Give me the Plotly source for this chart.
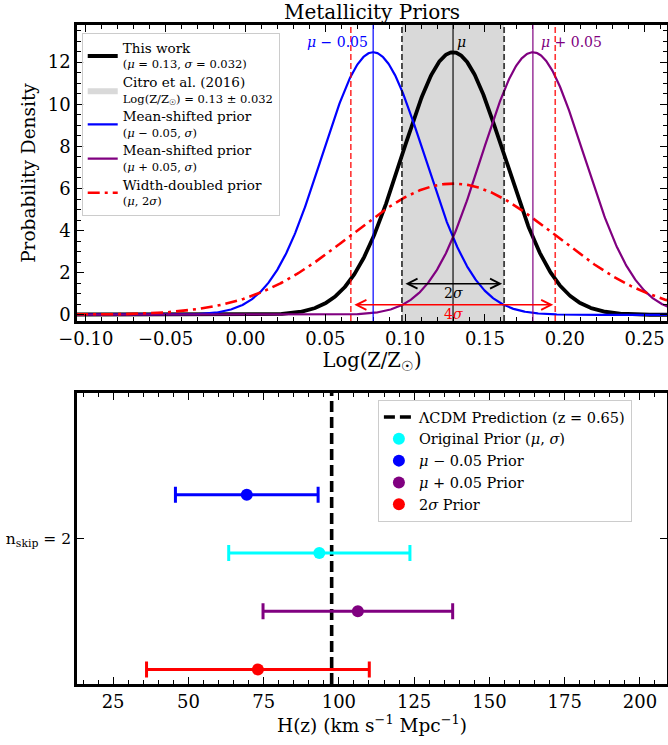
import numpy as np
import plotly.graph_objects as go

# ---------------- data ----------------
# Metallicity priors (Gaussian parameters)
mu = 0.13
sigma = 0.032
prior_names = ["This work", "Mean-shifted prior (-)", "Mean-shifted prior (+)", "Width-doubled prior"]
prior_mu = [0.13, 0.08, 0.18, 0.13]
prior_sigma = [0.032, 0.032, 0.032, 0.064]

# H(z) results for n_skip = 2
hz_labels = ["Original Prior", "mu-0.05 Prior", "mu+0.05 Prior", "2sigma Prior"]
hz_center = [93.5, 69.4, 106.3, 73.1]
hz_err = [30.1, 23.7, 31.5, 37.0]
hz_offset = [-0.05, 0.15, -0.25, -0.45]
nskip = 2
h_lcdm = 97.6

top_xticks = [-0.10, -0.05, 0.00, 0.05, 0.10, 0.15, 0.20, 0.25]
top_yticks = [0, 2, 4, 6, 8, 10, 12]
bot_xticks = [25, 50, 75, 100, 125, 150, 175, 200]

# ---------------- figure ----------------
FONT = "DejaVu Serif"
W, H = 668, 745
ML, MR, MT, MB = 77, 1, 25, 61
ph = H - MT - MB
top_dom = [(H - MB - 321) / ph, 1.0]
bot_dom = [0.0, (H - MB - 393) / ph]

top_xr = [-0.1055, 0.264]
top_yr = [-0.29, 13.76]
bot_xr = [13, 209]
bot_yr = [nskip - 0.5, nskip + 0.5]

fig = go.Figure()

xs = np.linspace(-0.2, 0.35, 1200)


def pdf(x, m, s):
    return np.exp(-0.5 * ((x - m) / s) ** 2) / (s * np.sqrt(2 * np.pi))


main = "<span style='font-size:13.5px'>%s</span>"
sub = "<span style='font-size:11.5px'>%s</span>"
legend_texts = [
    main % "This work" + "<br>" + sub % "(<i>μ</i> = 0.13, <i>σ</i> = 0.032)",
    main % "Mean-shifted prior" + "<br>" + sub % "(<i>μ</i> − 0.05, <i>σ</i>)",
    main % "Mean-shifted prior" + "<br>" + sub % "(<i>μ</i> + 0.05, <i>σ</i>)",
    main % "Width-doubled prior" + "<br>" + sub % "(<i>μ</i>, 2<i>σ</i>)",
]
citro_text = main % "Citro et al. (2016)" + "<br>" + sub % "Log(Z/Z<sub>☉</sub>) = 0.13 ± 0.032"
styles = [
    dict(color="black", width=3.8),
    dict(color="blue", width=2.2),
    dict(color="purple", width=2.2),
    dict(color="red", width=2.6, dash="12px,5px,3px,5px"),
]

# This work
fig.add_trace(go.Scatter(x=xs, y=pdf(xs, prior_mu[0], prior_sigma[0]), mode="lines",
                         line=styles[0], name=legend_texts[0], xaxis="x", yaxis="y",
                         legend="legend"))
# Citro patch (legend entry only)
fig.add_trace(go.Scatter(x=[None, None, None], y=[None, None, None], mode="lines",
                         fill="toself", fillcolor="#d9d9d9", line=dict(width=0, color="#d9d9d9"),
                         name=citro_text, xaxis="x", yaxis="y", legend="legend"))
for i in range(1, 4):
    fig.add_trace(go.Scatter(x=xs, y=pdf(xs, prior_mu[i], prior_sigma[i]), mode="lines",
                             line=styles[i], name=legend_texts[i], xaxis="x", yaxis="y",
                             legend="legend"))

shapes = []
# shaded ±1σ band
shapes.append(dict(type="rect", xref="x", yref="y domain", x0=mu - sigma, x1=mu + sigma,
                   y0=0, y1=1, fillcolor="#d9d9d9", line=dict(width=0), layer="below"))
for v in [mu - sigma, mu + sigma]:
    shapes.append(dict(type="line", xref="x", yref="y domain", x0=v, x1=v, y0=0, y1=1,
                       line=dict(color="rgba(0,0,0,0.75)", width=1.8, dash="6px,3px")))
shapes.append(dict(type="line", xref="x", yref="y domain", x0=mu, x1=mu, y0=0, y1=1,
                   line=dict(color="rgba(0,0,0,0.7)", width=1.6)))
shapes.append(dict(type="line", xref="x", yref="y domain", x0=prior_mu[1], x1=prior_mu[1], y0=0, y1=1,
                   line=dict(color="rgba(0,0,255,0.75)", width=1.6)))
shapes.append(dict(type="line", xref="x", yref="y domain", x0=prior_mu[2], x1=prior_mu[2], y0=0, y1=1,
                   line=dict(color="rgba(128,0,128,0.75)", width=1.6)))
for v in [mu - 2 * sigma, mu + 2 * sigma]:
    shapes.append(dict(type="line", xref="x", yref="y domain", x0=v, x1=v, y0=0, y1=1,
                       line=dict(color="rgba(255,0,0,0.8)", width=1.6, dash="6px,3px")))

# ---- bottom panel ----
fig.add_trace(go.Scatter(x=[h_lcdm, h_lcdm], y=bot_yr, mode="lines",
                         line=dict(color="black", width=3.6, dash="11px,5px"),
                         name="ΛCDM Prediction (z = 0.65)", xaxis="x2", yaxis="y2", legend="legend2"))
hz_colors = ["cyan", "blue", "purple", "red"]
hz_legend = ["Original Prior (<i>μ</i>, <i>σ</i>)", "<i>μ</i> − 0.05 Prior",
             "<i>μ</i> + 0.05 Prior", "2<i>σ</i> Prior"]
for i in range(4):
    fig.add_trace(go.Scatter(x=[hz_center[i]], y=[nskip + hz_offset[i]], mode="markers",
                             marker=dict(color=hz_colors[i], size=12),
                             error_x=dict(type="data", array=[hz_err[i]], color=hz_colors[i],
                                          thickness=3, width=8),
                             name=hz_legend[i], xaxis="x2", yaxis="y2", legend="legend2"))

annotations = [
    dict(text="Metallicity Priors", xref="x domain", yref="paper", x=0.5, y=1 + 13 / ph,
         xanchor="center", yanchor="middle", showarrow=False,
         font=dict(family=FONT, size=20, color="black")),
    dict(text="<i>μ</i>", xref="x", yref="y", x=mu, y=12.95, xanchor="left", xshift=2,
         showarrow=False, font=dict(family=FONT, size=14, color="black")),
    dict(text="<i>μ</i> − 0.05", xref="x", yref="y", x=prior_mu[1], y=12.95, xanchor="right",
         xshift=-3, showarrow=False, font=dict(family=FONT, size=14, color="blue")),
    dict(text="<i>μ</i> + 0.05", xref="x", yref="y", x=prior_mu[2], y=12.95, xanchor="left",
         xshift=6, showarrow=False, font=dict(family=FONT, size=14, color="purple")),
    # 2 sigma arrow
    dict(text="", xref="x", yref="y", axref="x", ayref="y", x=mu + sigma, y=1.48,
         ax=mu - sigma, ay=1.48, showarrow=True, arrowhead=5, arrowside="end+start",
         arrowwidth=1.5, arrowsize=1.3, arrowcolor="black", standoff=2, startstandoff=2),
    dict(text="2<i>σ</i>", xref="x", yref="y", x=mu, y=1.05, showarrow=False,
         font=dict(family=FONT, size=14, color="black")),
    dict(text="", xref="x", yref="y", axref="x", ayref="y", x=mu + 2 * sigma, y=0.48,
         ax=mu - 2 * sigma, ay=0.48, showarrow=True, arrowhead=5, arrowside="end+start",
         arrowwidth=1.5, arrowsize=1.3, arrowcolor="red", standoff=2, startstandoff=2),
    dict(text="4<i>σ</i>", xref="x", yref="y", x=mu, y=0.05, showarrow=False,
         font=dict(family=FONT, size=14, color="red")),
]

axis_common = dict(showline=True, linecolor="black", linewidth=2.6, mirror="allticks",
                   ticks="inside", ticklen=7, tickwidth=1.3, tickcolor="black",
                   showgrid=False, zeroline=False, automargin=False,
                   tickfont=dict(family=FONT, size=18, color="black"))

fig.update_layout(
    width=W, height=H,
    margin=dict(l=ML, r=MR, t=MT, b=MB, autoexpand=False),
    paper_bgcolor="white", plot_bgcolor="white",
    font=dict(family=FONT, color="black"),
    shapes=shapes, annotations=annotations,
    xaxis=dict(**axis_common, domain=[0, 1], anchor="y", range=top_xr,
               tickvals=top_xticks, tickformat=".2f",
               minor=dict(ticks="inside", ticklen=4, dtick=0.01, tick0=0, tickcolor="black", tickwidth=1),
               title=dict(text="Log(Z/Z<sub>☉</sub>)", font=dict(family=FONT, size=19.5), standoff=2)),
    yaxis=dict(**axis_common, domain=top_dom, anchor="x", range=top_yr,
               tickvals=top_yticks,
               minor=dict(ticks="inside", ticklen=4, dtick=0.5, tick0=0, tickcolor="black", tickwidth=1),
               title=dict(text="Probability Density", font=dict(family=FONT, size=18.5), standoff=8)),
    xaxis2=dict(**axis_common, domain=[0, 1], anchor="y2", range=bot_xr,
                tickvals=bot_xticks,
                minor=dict(ticks="inside", ticklen=4, dtick=5, tick0=0, tickcolor="black", tickwidth=1),
                title=dict(text="H(z) (km s<sup>−1</sup> Mpc<sup>−1</sup>)",
                           font=dict(family=FONT, size=18.5), standoff=4)),
    yaxis2=dict(**axis_common, domain=bot_dom, anchor="x2", range=bot_yr,
                tickvals=[nskip], ticktext=["n<sub>skip</sub> = 2"]),
    legend=dict(x=0.008, y=0.988, xanchor="left", yanchor="top",
                bgcolor="rgba(255,255,255,0.85)", bordercolor="#cccccc", borderwidth=1,
                font=dict(family=FONT, size=12, color="black"), tracegroupgap=0,
                itemwidth=30),
    legend2=dict(x=0.51, y=(H - MB - 400) / ph, xanchor="left", yanchor="top",
                 bgcolor="rgba(255,255,255,0.85)", bordercolor="#cccccc", borderwidth=1,
                 font=dict(family=FONT, size=14.5, color="black"), itemwidth=30),
    showlegend=True,
)
fig.update_layout(yaxis2_tickfont=dict(family=FONT, size=15.5, color="black"))

fig.write_html("out.html")
